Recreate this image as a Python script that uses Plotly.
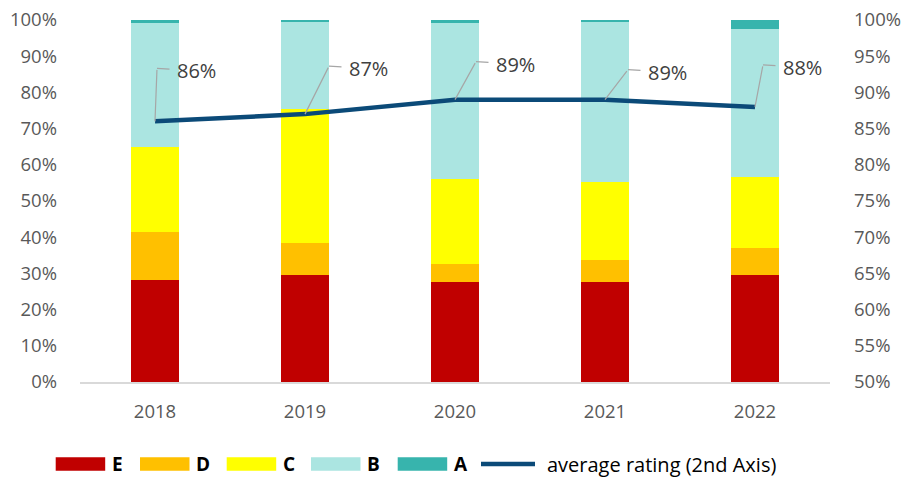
import plotly.graph_objects as go

# --- data -------------------------------------------------------------
years = ["2018", "2019", "2020", "2021", "2022"]
share_E = [28.1, 29.5, 27.7, 27.7, 29.5]
share_D = [13.3, 8.9, 4.9, 5.9, 7.4]
share_C = [23.5, 37.1, 23.4, 21.7, 19.7]
share_B = [34.35, 24.1, 43.1, 44.4, 41.0]
share_A = [0.75, 0.4, 0.9, 0.3, 2.4]
avg_rating = [86, 87, 89, 89, 88]

left_ticks = [0, 10, 20, 30, 40, 50, 60, 70, 80, 90, 100]
right_ticks = [50, 55, 60, 65, 70, 75, 80, 85, 90, 95, 100]

# --- styling ------------------------------------------------------------
FONT = "Open Sans"
TICK_COLOR = "#595959"
TICK_SIZE = 18.5
series = [
    ("E", share_E, "#C00000"),
    ("D", share_D, "#FFC000"),
    ("C", share_C, "#FFFF00"),
    ("B", share_B, "#ABE5E1"),
    ("A", share_A, "#37B4AD"),
]
LINE_COLOR = "#0B4A78"
LEADER_COLOR = "#A6A6A6"

# pixel offsets of each label's leader-line elbow from its point
elbows = [(2, -53), (24, -48), (21, -38), (23, -30), (8, -42)]
LABEL_DX, LABEL_DY = 39.5, 2.5

W, H = 903, 479
ML, MR, MT, MB = 80, 73, 20, 97
PW, PH = W - ML - MR, H - MT - MB


def px_x(x):
    return (x - ML) / PW


def px_y(y):
    return (H - MB - y) / PH


fig = go.Figure()

for name, vals, color in series:
    fig.add_trace(go.Bar(
        x=years, y=vals, name=name, marker_color=color,
        marker_line_width=0, width=0.32, showlegend=False,
    ))

fig.add_trace(go.Scatter(
    x=years, y=avg_rating, name="average rating (2nd Axis)", yaxis="y2",
    mode="lines", line=dict(color=LINE_COLOR, width=4.5), showlegend=False,
))

# value labels with elbow-shaped leader lines (category index positions)
annotations = []
for i, (v, (ex, ey)) in enumerate(zip(avg_rating, elbows)):
    # segment from the elbow down to the point
    annotations.append(dict(
        x=i, y=v, xref="x", yref="y2", text="",
        showarrow=True, arrowhead=0, arrowwidth=1.2, arrowcolor=LEADER_COLOR,
        ax=ex, ay=ey, standoff=0,
    ))
    # label, with the short segment running into the elbow
    annotations.append(dict(
        x=i, y=v, xref="x", yref="y2", xshift=ex, yshift=-ey,
        text=f"{v}%", showarrow=True, arrowhead=0, arrowwidth=1.2,
        arrowcolor=LEADER_COLOR, ax=LABEL_DX, ay=LABEL_DY, standoff=0,
        borderpad=7,
        font=dict(family=FONT, size=20, color="#404040"),
    ))

# custom legend: wide swatches under the plot
shapes = []
legend_y = 464
sw_x = [55.7, 140, 226.7, 311, 397.7]
for (name, _, color), x0 in zip(series, sw_x):
    shapes.append(dict(
        type="rect", xref="paper", yref="paper",
        x0=px_x(x0), x1=px_x(x0 + 49.5),
        y0=px_y(legend_y + 6.7), y1=px_y(legend_y - 6.7),
        fillcolor=color, line=dict(width=0),
    ))
    annotations.append(dict(
        x=px_x(x0 + 54), y=px_y(legend_y), xref="paper", yref="paper",
        text=f"<b>{name}</b>", showarrow=False, xanchor="left", yanchor="middle",
        font=dict(family=FONT, size=19, color="#000000"),
    ))
shapes.append(dict(
    type="line", xref="paper", yref="paper",
    x0=px_x(481), x1=px_x(535), y0=px_y(legend_y), y1=px_y(legend_y),
    line=dict(color=LINE_COLOR, width=4.5),
))
annotations.append(dict(
    x=px_x(545), y=px_y(legend_y), xref="paper", yref="paper",
    text="average rating (2nd Axis)", showarrow=False,
    xanchor="left", yanchor="middle",
    font=dict(family=FONT, size=20, color="#000000"),
))

fig.update_layout(
    width=W, height=H,
    margin=dict(l=ML, r=MR, t=MT, b=MB, autoexpand=False),
    barmode="stack", bargap=0.68,
    plot_bgcolor="white", paper_bgcolor="white",
    font=dict(family=FONT, size=TICK_SIZE, color=TICK_COLOR),
    showlegend=False,
    xaxis=dict(
        type="category", showgrid=False, showline=True, linecolor="#D9D9D9",
        linewidth=1.5, ticks="", ticklabelstandoff=12, automargin=False,
        tickfont=dict(family=FONT, size=TICK_SIZE, color=TICK_COLOR),
    ),
    yaxis=dict(
        range=[0, 100], tickvals=left_ticks,
        ticktext=[f"{t}%" for t in left_ticks],
        showgrid=False, zeroline=False, showline=False, ticks="",
        ticklabelstandoff=22, automargin=False,
        tickfont=dict(family=FONT, size=TICK_SIZE, color=TICK_COLOR),
    ),
    yaxis2=dict(
        range=[50, 100], tickvals=right_ticks,
        ticktext=[f"{t}%" for t in right_ticks],
        overlaying="y", side="right", showgrid=False, zeroline=False,
        showline=False, ticks="", ticklabelstandoff=23, automargin=False,
        tickfont=dict(family=FONT, size=TICK_SIZE, color=TICK_COLOR),
    ),
    shapes=shapes,
    annotations=annotations,
)

fig.write_html("out.html")
